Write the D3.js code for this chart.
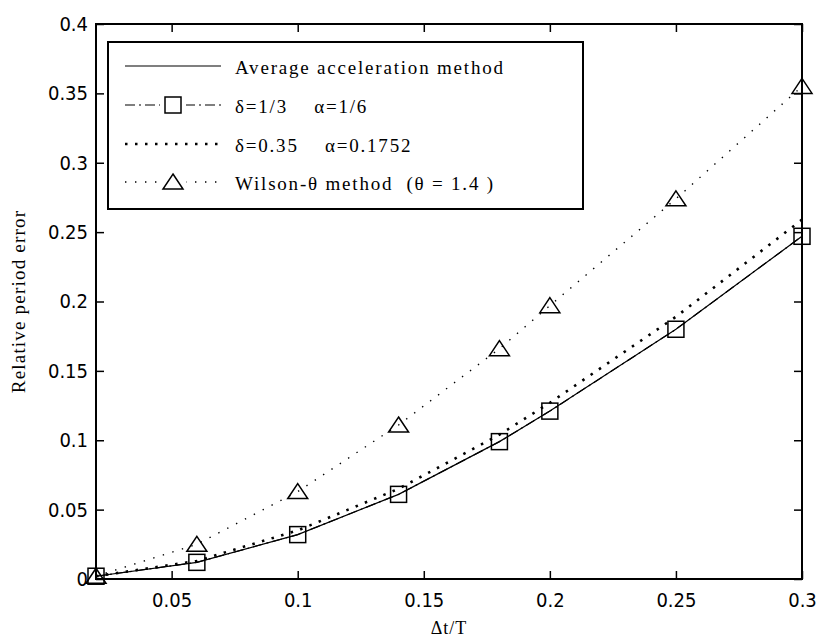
<!DOCTYPE html>
<html lang="en">
<head>
<meta charset="UTF-8">
<script src="https://cdn.jsdelivr.net/npm/d3@7"></script>
<title>Relative period error</title>
<style>
  body { margin: 0; background: #fff; }
  .axis text { font-family: "DejaVu Sans Condensed", "DejaVu Sans", sans-serif; font-size: 20px; fill: #000; }
  .axis path, .axis line { stroke: #000; }
  .serif { font-family: "Liberation Serif", "DejaVu Serif", serif; fill: #000; }
</style>
</head>
<body>
<svg id="chart" width="819" height="639"></svg>
<script>
// data
var dt = [0.02, 0.06, 0.1, 0.14, 0.18, 0.2, 0.25, 0.3];
var avgAcc   = [0.002, 0.012, 0.032, 0.061, 0.099, 0.121, 0.180, 0.247];
var linAcc   = [0.002, 0.012, 0.032, 0.061, 0.099, 0.121, 0.180, 0.247];
var newmark  = [0.002, 0.013, 0.035, 0.065, 0.104, 0.127, 0.189, 0.259];
var wilson   = [0.002, 0.025, 0.063, 0.111, 0.166, 0.197, 0.274, 0.355];
var xTicks = [0.05, 0.1, 0.15, 0.2, 0.25, 0.3];
var yTicks = [0, 0.05, 0.1, 0.15, 0.2, 0.25, 0.3, 0.35, 0.4];
var legendLabels = ["Average acceleration method", "δ=1/3    α=1/6", "δ=0.35    α=0.1752", "Wilson-θ method  (θ = 1.4 )"];

var L = 96, R = 802, T = 24, B = 579;
var svg = d3.select("#chart");

var x = d3.scaleLinear().domain([0.02, 0.3]).range([L, R]);
var y = d3.scaleLinear().domain([0, 0.4]).range([B, T]);

// series styles
var series = [
  {vals: avgAcc,  dash: null,         width: 1.2, marker: null},
  {vals: linAcc,  dash: "10 4 2 4",   width: 1.2, marker: "square"},
  {vals: newmark, dash: "2.5 7.5",    width: 2.6, marker: null},
  {vals: wilson,  dash: "1.4 8.6",    width: 1.4, marker: "triangle"}
];

// axes with inward ticks on all four sides
function fmt(d) { return d === 0 ? "0" : String(d); }
svg.append("g").attr("class", "axis").attr("transform", "translate(0," + B + ")")
  .call(d3.axisBottom(x).tickValues(xTicks).tickSizeInner(-8).tickSizeOuter(0).tickPadding(14).tickFormat(fmt));
svg.append("g").attr("class", "axis").attr("transform", "translate(0," + T + ")")
  .call(d3.axisTop(x).tickValues(xTicks).tickSizeInner(-8).tickSizeOuter(0).tickFormat(""));
svg.append("g").attr("class", "axis").attr("transform", "translate(" + L + ",0)")
  .call(d3.axisLeft(y).tickValues(yTicks).tickSizeInner(-8).tickSizeOuter(0).tickPadding(8).tickFormat(fmt));
svg.append("g").attr("class", "axis").attr("transform", "translate(" + R + ",0)")
  .call(d3.axisRight(y).tickValues(yTicks).tickSizeInner(-8).tickSizeOuter(0).tickFormat(""));
svg.selectAll(".axis .domain").remove();
svg.selectAll(".axis line").attr("stroke-width", 1.5);

svg.append("rect").attr("x", L).attr("y", T).attr("width", R - L).attr("height", B - T)
  .attr("fill", "none").attr("stroke", "#000").attr("stroke-width", 2);

// lines and markers
var line = d3.line().x(function (d) { return x(d[0]); }).y(function (d) { return y(d[1]); });

function drawMarker(g, kind, cx, cy) {
  if (kind === "square") {
    g.append("rect").attr("x", cx - 8).attr("y", cy - 8).attr("width", 16).attr("height", 16)
      .attr("fill", "none").attr("stroke", "#000").attr("stroke-width", 1.5);
  } else if (kind === "triangle") {
    g.append("path").attr("d", "M" + cx + "," + (cy - 8) + "L" + (cx + 10) + "," + (cy + 7) + "L" + (cx - 10) + "," + (cy + 7) + "Z")
      .attr("fill", "none").attr("stroke", "#000").attr("stroke-width", 1.5);
  }
}

var plot = svg.append("g");
series.forEach(function (s) {
  var pts = dt.map(function (d, i) { return [d, s.vals[i]]; });
  plot.append("path").attr("d", line(pts)).attr("fill", "none").attr("stroke", "#000")
    .attr("stroke-width", s.width).attr("stroke-dasharray", s.dash);
  if (s.marker) {
    pts.forEach(function (p) { drawMarker(plot, s.marker, x(p[0]), y(p[1])); });
  }
});

// legend
var lg = svg.append("g");
lg.append("rect").attr("x", 108).attr("y", 42).attr("width", 475).attr("height", 167)
  .attr("fill", "#fff").attr("stroke", "#000").attr("stroke-width", 2);
var rowY = [66, 105, 144, 182];
series.forEach(function (s, i) {
  lg.append("line").attr("x1", 125).attr("x2", 221).attr("y1", rowY[i]).attr("y2", rowY[i])
    .attr("stroke", "#000").attr("stroke-width", s.width).attr("stroke-dasharray", s.dash);
  if (s.marker) {
    lg.append("rect").attr("x", 160).attr("y", rowY[i] - 10).attr("width", 26).attr("height", 20).attr("fill", "#fff");
    drawMarker(lg, s.marker, 173, rowY[i]);
  }
  lg.append("text").attr("class", "serif").attr("x", 235).attr("y", rowY[i] + 8)
    .attr("xml:space", "preserve").style("white-space", "pre")
    .attr("font-size", 19).attr("letter-spacing", 1.8).text(legendLabels[i]);
});

// axis titles
svg.append("text").attr("class", "serif").attr("x", 449).attr("y", 634).attr("text-anchor", "middle")
  .attr("font-size", 18).attr("letter-spacing", 1).text("Δt/T");
svg.append("text").attr("class", "serif").attr("transform", "translate(25," + ((T + B) / 2) + ") rotate(-90)")
  .attr("text-anchor", "middle").attr("font-size", 19).attr("letter-spacing", 1.2).text("Relative period error");
</script>
</body>
</html>
